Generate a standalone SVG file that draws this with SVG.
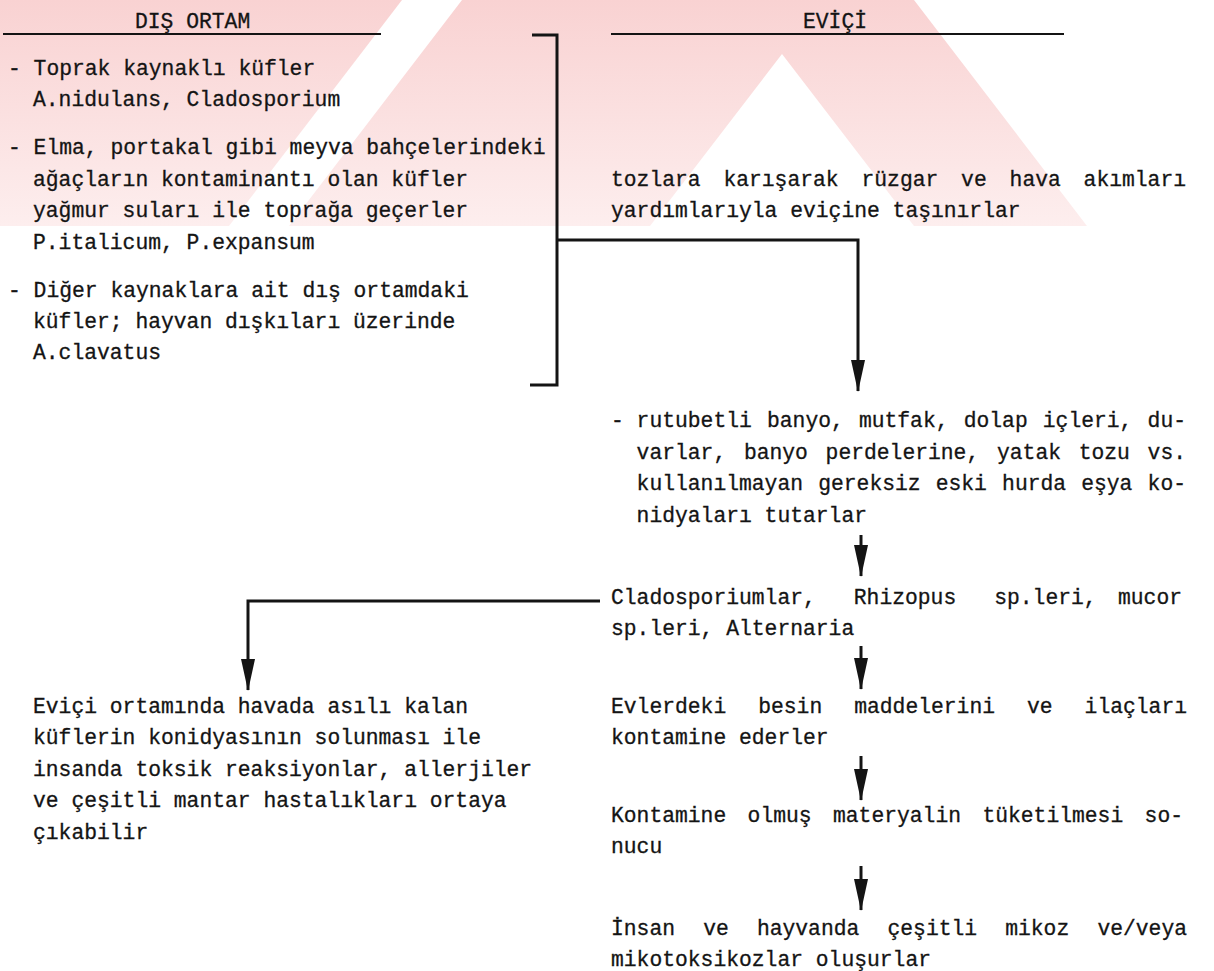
<svg xmlns="http://www.w3.org/2000/svg" width="1214" height="971" viewBox="0 0 1214 971">
<style>
.t{font-family:"Liberation Mono","DejaVu Sans Mono",monospace;font-size:21.33px;fill:#141414;stroke:#141414;stroke-width:0.3}
.ln{stroke:#141414;stroke-width:3;fill:none}
.ul{stroke:#141414;stroke-width:2;fill:none}
.wm{fill:url(#wmg)}
</style>
<defs>
<linearGradient id="wmg" x1="0" y1="0" x2="0" y2="1">
<stop offset="0" stop-color="#f9d2d2"/>
<stop offset="1" stop-color="#fdeeee"/>
</linearGradient>
<marker id="ah" markerUnits="userSpaceOnUse" markerWidth="32" markerHeight="14" refX="31" refY="7" orient="auto" viewBox="0 0 32 14">
<path d="M0,0 L32,7 L0,14 Z" fill="#141414"/>
</marker>
</defs>
<rect width="1214" height="971" fill="#ffffff"/>
<g id="watermark">
<polygon class="wm" points="0,0 402,0 229,226 0,226"/>
<polygon class="wm" points="462,0 914,0 1087,226 914,226 782,54 650,226 289,226"/>
</g>
<g id="headers">
<text class="t" x="135" y="28">DIŞ ORTAM</text>
<line class="ul" x1="3" y1="34" x2="381" y2="34"/>
<text class="t" x="803" y="28">EVİÇİ</text>
<line class="ul" x1="611" y1="34" x2="1064" y2="34"/>
</g>
<g id="dis-ortam">
<text class="t" x="8" y="75">- Toprak kaynaklı küfler</text>
<text class="t" x="33" y="106">A.nidulans, Cladosporium</text>
<text class="t" x="8" y="154">- Elma, portakal gibi meyva bahçelerindeki</text>
<text class="t" x="33" y="186">ağaçların kontaminantı olan küfler</text>
<text class="t" x="33" y="217">yağmur suları ile toprağa geçerler</text>
<text class="t" x="33" y="249">P.italicum, P.expansum</text>
<text class="t" x="8" y="297">- Diğer kaynaklara ait dış ortamdaki</text>
<text class="t" x="33" y="328">küfler; hayvan dışkıları üzerinde</text>
<text class="t" x="33" y="359">A.clavatus</text>
</g>
<g id="tasinma">
<text class="t" y="186"><tspan x="611">tozlara</tspan><tspan x="723.4">karışarak</tspan><tspan x="861.5">rüzgar</tspan><tspan x="961.1">ve</tspan><tspan x="1009.6">hava</tspan><tspan x="1083.6">akımları</tspan></text>
<text class="t" x="611" y="217">yardımlarıyla eviçine taşınırlar</text>
</g>
<g id="rutubetli">
<text class="t" y="427"><tspan x="611">-</tspan><tspan x="636.6">rutubetli</tspan><tspan x="767">banyo,</tspan><tspan x="858.9">mutfak,</tspan><tspan x="963.7">dolap</tspan><tspan x="1042.8">içleri,</tspan><tspan x="1147.6">du-</tspan></text>
<text class="t" y="459"><tspan x="636.6">varlar,</tspan><tspan x="743.9">banyo</tspan><tspan x="825.6">perdelerine,</tspan><tspan x="997">yatak</tspan><tspan x="1078.7">tozu</tspan><tspan x="1147.6">vs.</tspan></text>
<text class="t" y="490"><tspan x="636.6">kullanılmayan</tspan><tspan x="818.2">gereksiz</tspan><tspan x="935.7">eski</tspan><tspan x="1002.1">hurda</tspan><tspan x="1081.2">eşya</tspan><tspan x="1147.6">ko-</tspan></text>
<text class="t" x="636.6" y="522">nidyaları tutarlar</text>
</g>
<g id="kufler">
<text class="t" y="604"><tspan x="611">Cladosporiumlar,</tspan><tspan x="853.8">Rhizopus</tspan><tspan x="994.2">sp.leri,</tspan><tspan x="1118">mucor</tspan></text>
<text class="t" x="611" y="635">sp.leri, Alternaria</text>
</g>
<g id="kontaminasyon">
<text class="t" y="713"><tspan x="611">Evlerdeki</tspan><tspan x="758.2">besin</tspan><tspan x="854.2">maddelerini</tspan><tspan x="1027">ve</tspan><tspan x="1084.6">ilaçları</tspan></text>
<text class="t" x="611" y="744">kontamine ederler</text>
</g>
<g id="tuketim">
<text class="t" y="822"><tspan x="611">Kontamine</tspan><tspan x="747.6">olmuş</tspan><tspan x="833">materyalin</tspan><tspan x="982.4">tüketilmesi</tspan><tspan x="1144.6">so-</tspan></text>
<text class="t" x="611" y="853">nucu</text>
</g>
<g id="mikoz">
<text class="t" y="935"><tspan x="611">İnsan</tspan><tspan x="703.2">ve</tspan><tspan x="756.9">hayvanda</tspan><tspan x="887.5">çeşitli</tspan><tspan x="1005.2">mikoz</tspan><tspan x="1097.4">ve/veya</tspan></text>
<text class="t" x="611" y="966">mikotoksikozlar oluşurlar</text>
</g>
<g id="solunum">
<text class="t" x="33" y="713">Eviçi ortamında havada asılı kalan</text>
<text class="t" x="33" y="744">küflerin konidyasının solunması ile</text>
<text class="t" x="33" y="776">insanda toksik reaksiyonlar, allerjiler</text>
<text class="t" x="33" y="807">ve çeşitli mantar hastalıkları ortaya</text>
<text class="t" x="33" y="839">çıkabilir</text>
</g>
<g id="connectors">
<polyline class="ln" points="532,35 557,35 557,385 530,385"/>
<polyline class="ln" points="557,240 858,240 858,391" marker-end="url(#ah)"/>
<line class="ln" x1="861" y1="535" x2="861" y2="576" marker-end="url(#ah)"/>
<polyline class="ln" points="600,601 248,601 248,690" marker-end="url(#ah)"/>
<line class="ln" x1="861" y1="646" x2="861" y2="689" marker-end="url(#ah)"/>
<line class="ln" x1="861" y1="756" x2="861" y2="800" marker-end="url(#ah)"/>
<line class="ln" x1="861" y1="866" x2="861" y2="910" marker-end="url(#ah)"/>
</g>
</svg>
